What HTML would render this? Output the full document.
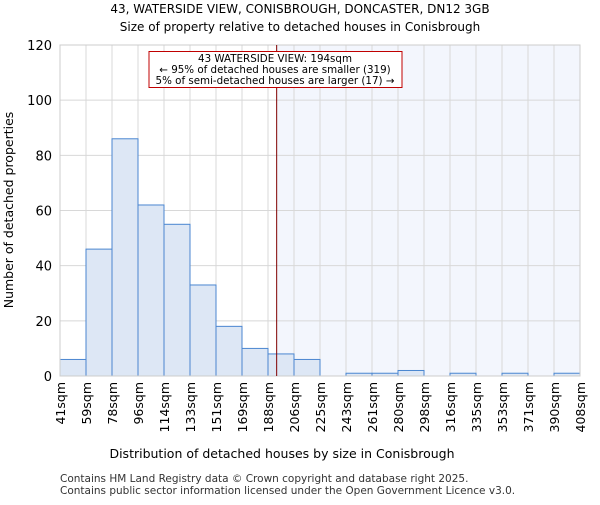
<!DOCTYPE html>
<html><head><meta charset="utf-8"><style>body{margin:0;background:#fff}svg text{font-family:"DejaVu Sans","Liberation Sans",sans-serif}</style></head>
<body>
<svg id="chart" width="600" height="500" viewBox="0 0 600 500" xmlns="http://www.w3.org/2000/svg">
<text x="300" y="13" text-anchor="middle" font-size="12">43, WATERSIDE VIEW, CONISBROUGH, DONCASTER, DN12 3GB</text>
<text x="300" y="31" text-anchor="middle" font-size="12">Size of property relative to detached houses in Conisbrough</text>
<g id="plot"></g>
<text x="282" y="458" text-anchor="middle" font-size="12.5">Distribution of detached houses by size in Conisbrough</text>
<text transform="translate(13,210) rotate(-90)" text-anchor="middle" font-size="12.5">Number of detached properties</text>
<text x="60" y="482" font-size="10.5" fill="#333">Contains HM Land Registry data © Crown copyright and database right 2025.</text>
<text x="60" y="494" font-size="10.5" fill="#333">Contains public sector information licensed under the Open Government Licence v3.0.</text>
</svg>
<script>
const binLabels=["41sqm","59sqm","78sqm","96sqm","114sqm","133sqm","151sqm","169sqm","188sqm","206sqm","225sqm","243sqm","261sqm","280sqm","298sqm","316sqm","335sqm","353sqm","371sqm","390sqm","408sqm"];
const binEdges=[41,59,78,96,114,133,151,169,188,206,225,243,261,280,298,316,335,353,371,390,408];
const counts=[6,46,86,62,55,33,18,10,8,6,0,1,1,2,0,1,0,1,0,1];
const yTicks=[0,20,40,60,80,100,120];
const propertySize=194;
const NS="http://www.w3.org/2000/svg";
const L=60,R=580,T=45,B=376,yMax=120;
const n=counts.length,bw=(R-L)/n;
const xi=i=>L+i*bw;
const xv=v=>{for(let i=0;i<binEdges.length-1;i++){if(v<=binEdges[i+1])return xi(i)+(v-binEdges[i])/(binEdges[i+1]-binEdges[i])*bw;}return R;};
const y=v=>B-v/yMax*(B-T);
const g=document.getElementById('plot');
function mk(t,a){const e=document.createElementNS(NS,t);for(const k in a)e.setAttribute(k,a[k]);g.appendChild(e);return e;}
const px=xv(propertySize);
let e=mk('rect',{x:px,y:T,width:R-px,height:B-T,fill:'#f3f6fd'});


for(let i=0;i<=n;i++){e=mk('line',{x1:xi(i),x2:xi(i),y1:T,y2:B,stroke:'#d8d8d8','stroke-width':1});

}
yTicks.forEach(t=>{e=mk('line',{x1:L,x2:R,y1:y(t),y2:y(t),stroke:'#d8d8d8','stroke-width':1});


e=mk('text',{x:L-8,y:y(t)+5,'text-anchor':'end','font-size':13});e.textContent=t;

});
counts.forEach((c,i)=>{if(c<=0)return;e=mk('rect',{x:xi(i),y:y(c),width:bw,height:B-y(c),fill:'#dde7f5',stroke:'#4a86d0','stroke-width':1});

});
binLabels.forEach((l,i)=>{e=mk('text',{transform:`translate(${xi(i)+5},382) rotate(-90)`,'text-anchor':'end','font-size':12.5});e.textContent=l;

});
e=mk('rect',{x:L,y:T,width:R-L,height:B-T,fill:'none',stroke:'#ccc'});


e=mk('line',{x1:px,x2:px,y1:T,y2:B,stroke:'#800000','stroke-width':1});


e=mk('rect',{x:149,y:51.5,width:253,height:36,fill:'#fff',stroke:'#c00000','stroke-width':1});


["43 WATERSIDE VIEW: 194sqm","← 95% of detached houses are smaller (319)","5% of semi-detached houses are larger (17) →"].forEach((s,i)=>{e=mk('text',{x:275,y:62+i*11,'text-anchor':'middle','font-size':10.3});e.textContent=s;

});
</script>
</body></html>
